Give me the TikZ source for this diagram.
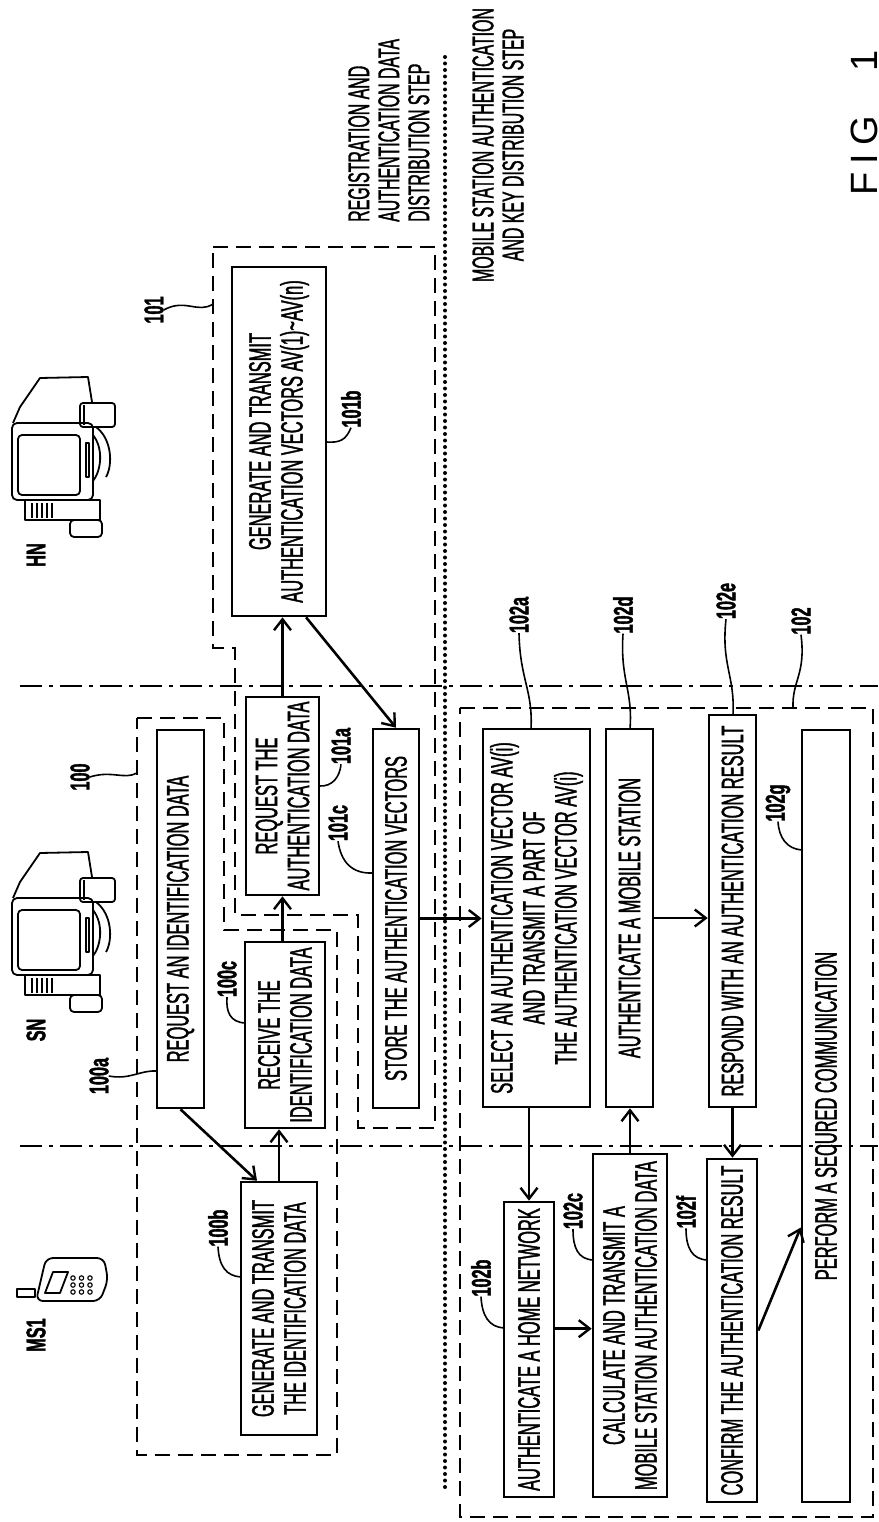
\documentclass[tikz,border=0pt]{standalone}
\usepackage{fontspec}
\setmainfont{Liberation Sans}
\newfontfamily\pf[FakeStretch=0.53,FakeBold=1.2]{Liberation Sans}
\newfontfamily\lf[FakeStretch=0.6,FakeBold=1.5]{Liberation Sans}
\usetikzlibrary{arrows.meta,calc}
\tikzset{
 stepbox/.style={draw, line width=2.6pt, rotate=90, inner sep=0pt, align=center, font=\pf\fontsize{31}{32}\selectfont},
 reflabel/.style={rotate=90, inner sep=0pt, font=\lf\bfseries\fontsize{27}{27}\selectfont},
 leader/.style={line width=1.6pt},
 flow/.style={line width=2.6pt, -{Straight Barb[length=11pt,width=17pt,line width=2.4pt]}},
 group/.style={line width=2.4pt, dash pattern=on 15pt off 8pt},
 lane/.style={line width=2.2pt, dash pattern=on 22pt off 7pt on 4pt off 7pt},
 phase/.style={line width=4pt, line cap=round, dash pattern=on 0pt off 6.5pt},
 steplabel/.style={rotate=90, inner sep=0pt, font=\pf\fontsize{30}{30}\selectfont},
 icon/.style={line width=1.8pt, line join=round},
 computer/.pic={
  \draw[icon] (13,46) -- (20,30) -- (40,1) -- (88,0) -- (92,25);
  \draw[icon, rounded corners=5] (12,46) rectangle (93,123);
  \draw[icon, rounded corners=4] (18,58) rectangle (80,118);
  \draw[icon] (86,66) rectangle (89,100);
  \draw[icon, rounded corners=3] (80,26) rectangle (115,50);
  \draw[icon] (84,28) -- (84,48);
  \draw[icon] (96,50) .. controls (112,62) and (113,88) .. (106,100);
  \draw[icon] (93,58) .. controls (104,72) and (101,94) .. (93,104);
  \draw[icon] (25,123) rectangle (100,143);
  \foreach \s in {32,37,42,47,52} \draw[icon] (\s,126) -- (\s,141);
  \draw[icon, rounded corners=4] (70,143) rectangle (102,160);
 }
}
\begin{document}
\begin{tikzpicture}[x=1pt,y=-1pt]
\useasboundingbox (0,0) rectangle (878,1522);
\fill[white] (0,0) rectangle (878,1522);

% lanes and phase separator
\draw[lane] (20,686) -- (878,686);
\draw[lane] (20,1146) -- (878,1146);
\draw[phase] (445,57) -- (445,1493);

% group boxes
\draw[group] (137,718) -- (224,718) -- (224,930) -- (337,930) -- (337,1455) -- (137,1455) -- cycle;
\draw[group] (213,247) -- (435,247) -- (435,1128) -- (358,1128) -- (358,915) -- (235,915) -- (235,648) -- (213,648) -- cycle;
\draw[group] (460,708) -- (873,708) -- (873,1517) -- (460,1517) -- cycle;

% devices
\pic at (0,377) {computer};
\pic at (0,852) {computer};
\draw[icon, rounded corners=7] (36,1301) -- (46,1258) -- (104,1258) -- (108,1280) -- (100,1301) -- cycle;
\draw[icon] (17,1289) rectangle (35,1297);
\draw[icon] (45,1293) -- (53,1272) -- (68,1272) -- (60,1293) -- cycle;
\foreach \i in {0,1,2} \foreach \j in {0,1,2} \draw[line width=1.1pt] (73+8.5*\j,1278+7*\i) circle (2.2);

\node[reflabel] (hn) at (36,555) {HN};
\node[reflabel] (sn) at (36,1030) {SN};
\node[reflabel] (ms) at (36,1335) {MS1};

% step boxes
\node[stepbox, minimum width=378, minimum height=47] (n100a) at (180.5,919) {REQUEST AN IDENTIFICATION DATA};
\node[stepbox, minimum width=253, minimum height=76] (n100b) at (279,1308.5) {GENERATE AND TRANSMIT\\THE IDENTIFICATION DATA};
\node[stepbox, minimum width=186, minimum height=80] (n100c) at (285,1035) {RECEIVE THE\\IDENTIFICATION DATA};
\node[stepbox, minimum width=198, minimum height=73] (n101a) at (282.5,796) {REQUEST THE\\AUTHENTICATION DATA};
\node[stepbox, minimum width=349, minimum height=94] (n101b) at (279,441.5) {GENERATE AND TRANSMIT\\AUTHENTICATION VECTORS AV(1)\textasciitilde AV(n)};
\node[stepbox, minimum width=379, minimum height=46] (n101c) at (396,918.5) {STORE THE AUTHENTICATION VECTORS};
\node[stepbox, minimum width=378, minimum height=107] (n102a) at (536.5,918) {SELECT AN AUTHENTICATION VECTOR AV(i)\\AND TRANSMIT A PART OF\\THE AUTHENTICATION VECTOR AV(i)};
\node[stepbox, minimum width=295, minimum height=50] (n102b) at (529,1349.5) {AUTHENTICATE A HOME NETWORK};
\node[stepbox, minimum width=343, minimum height=74] (n102c) at (630,1325.5) {CALCULATE AND TRANSMIT A\\MOBILE STATION AUTHENTICATION DATA};
\node[stepbox, minimum width=378, minimum height=47] (n102d) at (629.5,918) {AUTHENTICATE A MOBILE STATION};
\node[stepbox, minimum width=392, minimum height=47] (n102e) at (732.5,911) {RESPOND WITH AN AUTHENTICATION RESULT};
\node[stepbox, minimum width=343, minimum height=50] (n102f) at (732,1330.5) {CONFIRM THE AUTHENTICATION RESULT};
\node[stepbox, minimum width=772, minimum height=48] (n102g) at (826,1116) {PERFORM A SECURED COMMUNICATION};

% reference labels
\node[reflabel] (l101) at (154,310) {101};
\node[reflabel] (l101b) at (351,409) {101b};
\node[reflabel] (l101a) at (341,746) {101a};
\node[reflabel] (l101c) at (338,823) {101c};
\node[reflabel] (l100) at (80,777) {100};
\node[reflabel] (l100a) at (99,1076) {100a};
\node[reflabel] (l100c) at (227,979) {100c};
\node[reflabel] (l100b) at (218,1228) {100b};
\node[reflabel] (l102) at (801,621) {102};
\node[reflabel] (l102a) at (519,615) {102a};
\node[reflabel] (l102d) at (623,615) {102d};
\node[reflabel] (l102e) at (726,601) {102e};
\node[reflabel] (l102g) at (778,803) {102g};
\node[reflabel] (l102b) at (481,1278) {102b};
\node[reflabel] (l102c) at (573,1211) {102c};
\node[reflabel] (l102f) at (686,1212) {102f};

% leaders
\draw[leader] (l101.south) .. controls (185,298) and (198,314) .. (213,304);
\draw[leader] (l100.south) .. controls (112,770) and (124,780) .. (137,773);
\draw[leader] (l102.west) .. controls (806,675) and (792,680) .. (793,708);
\draw[leader] (l102a.west) .. controls (520,680) and (533,690) .. (531,729);
\draw[leader] (l102d.west) .. controls (620,680) and (633,690) .. (630,729);
\draw[leader] (l102e.west) .. controls (721,665) and (735,675) .. (733,715);
\draw[leader] (326,442) .. controls (340,443) and (346,440) .. (l101b.west);
\draw[leader] (319,786) .. controls (333,787) and (340,776) .. (l101a.west);
\draw[leader] (373,873) .. controls (352,874) and (341,862) .. (l101c.west);
\draw[leader] (l100a.south) .. controls (130,1080) and (140,1070) .. (157,1071);
\draw[leader] (245,1023) .. controls (230,1022) and (226,1012) .. (l100c.west);
\draw[leader] (241,1277) .. controls (226,1276) and (219,1266) .. (l100b.west);
\draw[leader] (504,1328) .. controls (489,1327) and (482,1316) .. (l102b.west);
\draw[leader] (593,1260) .. controls (578,1259) and (573,1248) .. (l102c.west);
\draw[leader] (707,1260) .. controls (692,1259) and (686,1248) .. (l102f.west);
\draw[leader] (802,850) .. controls (787,849) and (779,838) .. (l102g.west);

% flow anchor points
\coordinate (p100b) at ($(n100b.north east)!0.22!(n100b.south east)$);
\coordinate (p101b) at ($(n101b.north west)!0.78!(n101b.south west)$);
\coordinate (p102b) at ($(n102b.south west)!0.57!(n102b.south east)$);
\coordinate (p102g) at ($(n102g.north west)!0.356!(n102g.north east)$);

% flows
\draw[flow] (n100a.west) -- (p100b);
\draw[flow] (n100b.east) -- (n100b.east |- n100c.west);
\draw[flow] (n101a.west |- n100c.east) -- (n101a.west);
\draw[flow] (n101a.east) -- (n101a.east |- n101b.west);
\draw[flow] (p101b) -- (n101c.east);
\draw[flow] (n101c.south) -- (n101c.south -| n102a.north);
\draw[flow] (n102b.east |- n102a.west) -- (n102b.east);
\draw[flow] (p102b) -- (p102b -| n102c.north);
\draw[flow] (n102c.east) -- (n102c.east |- n102d.west);
\draw[flow] (n102d.south) -- (n102d.south -| n102e.north);
\draw[flow] (n102e.west) -- (n102e.west |- n102f.east);
\draw[flow] (n102f.south) -- (p102g);

% step captions
\node[steplabel, align=left, anchor=north west] (cap1) at (348,222) {REGISTRATION AND\\AUTHENTICATION DATA\\DISTRIBUTION STEP};
\node[steplabel, align=center] (cap2) at (498,145) {MOBILE STATION AUTHENTICATION\\AND KEY DISTRIBUTION STEP};

\node[rotate=90, inner sep=0pt, font=\fontsize{38}{38}\selectfont] (fig) at (864.5,123) {F\hspace{8pt}I\hspace{8pt}G\hspace{45pt}1};
\end{tikzpicture}
\end{document}
